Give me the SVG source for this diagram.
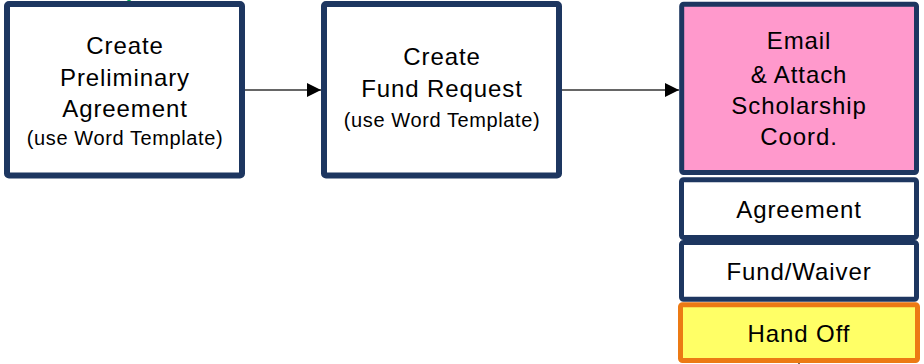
<svg xmlns="http://www.w3.org/2000/svg" width="924" height="364" viewBox="0 0 924 364">
  <defs>
    <style>
      .box { stroke: #1d3660; stroke-width: 6; fill: #ffffff; }
      .thin { stroke-width: 5; }
      .pink { fill: #ff99cc; }
      .yellow { fill: #ffff66; stroke: #ec7a14; }
      .t { font-family: "Liberation Sans", Arial, sans-serif; font-size: 24px; letter-spacing: 0.9px; fill: #000; text-anchor: middle; }
      .s { font-family: "Liberation Sans", Arial, sans-serif; font-size: 20px; letter-spacing: 0.6px; fill: #000; text-anchor: middle; }
      .conn { stroke: #666666; stroke-width: 2; fill: none; }
    </style>
    <marker id="arrow" markerWidth="14" markerHeight="14" refX="14" refY="7" orient="auto" markerUnits="userSpaceOnUse">
      <path d="M0,0 L14,7 L0,14 Z" fill="#000000"/>
    </marker>
  </defs>
  <rect width="924" height="364" fill="#ffffff"/>

  <g id="connectors">
    <line class="conn" x1="245" y1="90" x2="321" y2="90" marker-end="url(#arrow)"/>
    <line class="conn" x1="562" y1="90" x2="679" y2="90" marker-end="url(#arrow)"/>
    <line x1="125" y1="3.5" x2="131" y2="-1" stroke="#00a651" stroke-width="2"/>
    <line x1="799" y1="359" x2="799" y2="364" stroke="#4a3a2a" stroke-width="1.5"/>
  </g>

  <g id="node-preliminary">
    <rect class="box" x="7" y="4" width="235" height="171.5" rx="2"/>
    <text class="t" x="125" y="54">Create</text>
    <text class="t" x="125" y="86">Preliminary</text>
    <text class="t" x="125" y="117">Agreement</text>
    <text class="s" x="125" y="144.5">(use Word Template)</text>
  </g>

  <g id="node-fund-request">
    <rect class="box" x="324" y="4" width="235" height="171.5" rx="2"/>
    <text class="t" x="442" y="64.5">Create</text>
    <text class="t" x="442" y="96.5">Fund Request</text>
    <text class="s" x="442" y="126.5">(use Word Template)</text>
  </g>

  <g id="node-email">
    <rect class="box thin pink" x="681.7" y="4.2" width="234.8" height="168.3" rx="2"/>
    <text class="t" x="799" y="49.3">Email</text>
    <text class="t" x="799" y="82.7">&amp; Attach</text>
    <text class="t" x="799" y="113.5">Scholarship</text>
    <text class="t" x="799" y="145">Coord.</text>
  </g>

  <g id="node-agreement">
    <rect class="box thin" x="681.5" y="179.8" width="235" height="57.7" rx="2"/>
    <text class="t" x="799" y="217.7">Agreement</text>
  </g>

  <g id="node-fund-waiver">
    <rect class="box thin" x="681.5" y="242.5" width="235" height="56.7" rx="2"/>
    <text class="t" x="799" y="280">Fund/Waiver</text>
  </g>

  <g id="node-hand-off">
    <rect class="box thin yellow" x="680.5" y="304.8" width="237" height="55.7" rx="2"/>
    <text class="t" x="799" y="341.7">Hand Off</text>
  </g>
</svg>
